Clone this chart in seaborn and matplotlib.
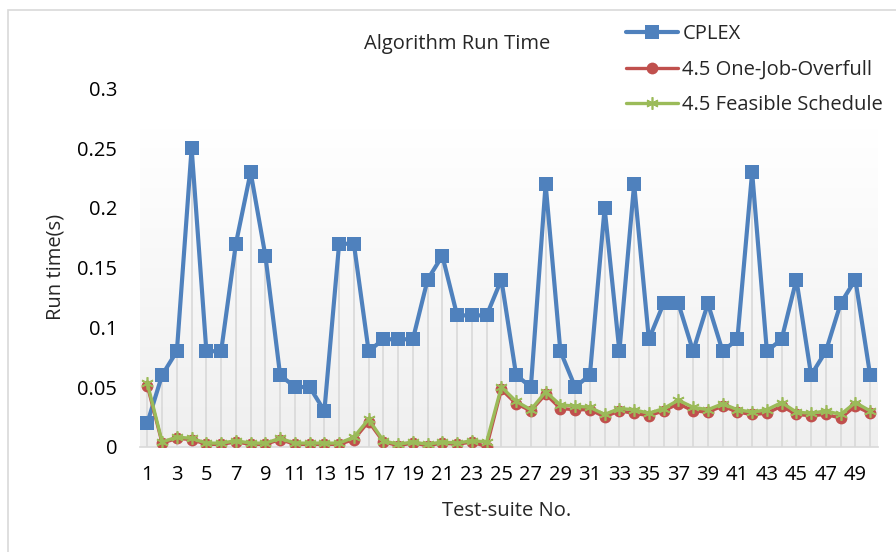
import numpy as np
import pandas as pd
import matplotlib
matplotlib.use("Agg")
import matplotlib.pyplot as plt
import matplotlib.patches as mpatches
from matplotlib.colors import LinearSegmentedColormap
import seaborn as sns

tests = list(range(1, 51))
cplex = [0.02, 0.06, 0.08, 0.25, 0.08, 0.08, 0.17, 0.23, 0.16, 0.06,
         0.05, 0.05, 0.03, 0.17, 0.17, 0.08, 0.09, 0.09, 0.09, 0.14,
         0.16, 0.11, 0.11, 0.11, 0.14, 0.06, 0.05, 0.22, 0.08, 0.05,
         0.06, 0.20, 0.08, 0.22, 0.09, 0.12, 0.12, 0.08, 0.12, 0.08,
         0.09, 0.23, 0.08, 0.09, 0.14, 0.06, 0.08, 0.12, 0.14, 0.06]
overfull = [0.051, 0.003, 0.007, 0.006, 0.002, 0.002, 0.004, 0.002, 0.002, 0.006,
            0.002, 0.002, 0.002, 0.002, 0.006, 0.021, 0.004, 0.001, 0.003, 0.001,
            0.003, 0.002, 0.004, 0.000, 0.048, 0.036, 0.030, 0.044, 0.032, 0.031,
            0.031, 0.025, 0.030, 0.028, 0.026, 0.030, 0.036, 0.030, 0.029, 0.034,
            0.029, 0.027, 0.028, 0.034, 0.027, 0.026, 0.027, 0.024, 0.034, 0.028]
feasible = [0.053, 0.004, 0.008, 0.007, 0.003, 0.003, 0.005, 0.003, 0.003, 0.007,
            0.003, 0.003, 0.003, 0.003, 0.008, 0.023, 0.005, 0.002, 0.004, 0.002,
            0.004, 0.003, 0.005, 0.004, 0.050, 0.038, 0.031, 0.046, 0.035, 0.034,
            0.033, 0.027, 0.032, 0.031, 0.028, 0.032, 0.039, 0.033, 0.031, 0.036,
            0.031, 0.029, 0.031, 0.037, 0.029, 0.028, 0.030, 0.027, 0.037, 0.030]
series_names = ["CPLEX", "4.5 One-Job-Overfull", "4.5 Feasible Schedule"]
ytick_vals = [0, 0.05, 0.1, 0.15, 0.2, 0.25, 0.3]
ytick_labels = ["0", "0.05", "0.1", "0.15", "0.2", "0.25", "0.3"]
xtick_vals = list(range(1, 51, 2))

sns.set_style("white")
plt.rcParams["font.family"] = ["Open Sans", "DejaVu Sans"]
FS = 14.5

W, H = 896, 552
fig = plt.figure(figsize=(W / 100, H / 100), dpi=100)
ax = fig.add_axes([140 / W, 1 - 446.7 / H, (877.5 - 140) / W, 358.1 / H])

# outer chart border
fig.patches.append(mpatches.Rectangle((8 / W, -0.05), 1.2, 1 - 10 / H + 0.05,
                                      transform=fig.transFigure, fill=False,
                                      edgecolor="#d9d9d9", linewidth=1.2))

# gradient plot-area background
grad = np.linspace(0, 1, 256).reshape(-1, 1)
cmap = LinearSegmentedColormap.from_list("g", ["#efefef", "#ffffff"])
ax.imshow(grad, extent=[0.5, 50.5, 0, 0.2665], origin="lower", cmap=cmap,
          aspect="auto", zorder=0)

df = pd.DataFrame({"test": tests, "cplex": cplex, "overfull": overfull, "feasible": feasible})

# drop lines
ax.vlines(df["test"], 0, df[["cplex", "overfull", "feasible"]].max(axis=1),
          color="#d9d9d9", linewidth=1.2, zorder=1)

sns.lineplot(data=df, x="test", y="cplex", ax=ax, color="#4F81BD", linewidth=3,
             marker="s", markersize=10, markeredgewidth=0, label=series_names[0], zorder=3)
sns.lineplot(data=df, x="test", y="overfull", ax=ax, color="#C0504D", linewidth=2.4,
             marker="o", markersize=8.5, markeredgewidth=0, label=series_names[1], zorder=4)
sns.lineplot(data=df, x="test", y="feasible", ax=ax, color="#9BBB59", linewidth=2.4,
             marker=(6, 2, 0), markersize=9, markeredgewidth=1.2,
             markeredgecolor="#9BBB59", label=series_names[2], zorder=5)

ax.set_xlim(0.5, 50.5)
ax.set_ylim(0, 0.3)
ax.set_xticks(xtick_vals)
ax.set_xticklabels([str(v) for v in xtick_vals])
ax.set_yticks(ytick_vals)
ax.set_yticklabels(ytick_labels)
ax.tick_params(axis="x", length=0, pad=13, labelsize=FS, colors="#000000")
ax.tick_params(axis="y", length=0, pad=16.5, labelsize=FS, colors="#000000")
for s in ["left", "right", "top"]:
    ax.spines[s].set_visible(False)
ax.spines["bottom"].set_color("#d9d9d9")
ax.spines["bottom"].set_linewidth(1.2)
ax.set_facecolor("none")
ax.set_xlabel("")
ax.set_ylabel("")

fig.text(507 / W, 1 - 511 / H, "Test-suite No.", ha="center", va="center", fontsize=FS)
fig.text(56 / W, 1 - 267 / H, "Run time(s)", ha="center", va="center", fontsize=FS,
         rotation=90)
fig.text(457 / W, 1 - 44 / H, "Algorithm Run Time", ha="center", va="center", fontsize=FS)

ax.legend(loc="upper left", bbox_to_anchor=(626 / W, 1 - 24 / H),
          bbox_transform=fig.transFigure, frameon=False, fontsize=FS,
          handlelength=2.6, handletextpad=0.2, labelspacing=0.78,
          borderpad=0, borderaxespad=0)

fig.savefig("out.png", dpi=100)
